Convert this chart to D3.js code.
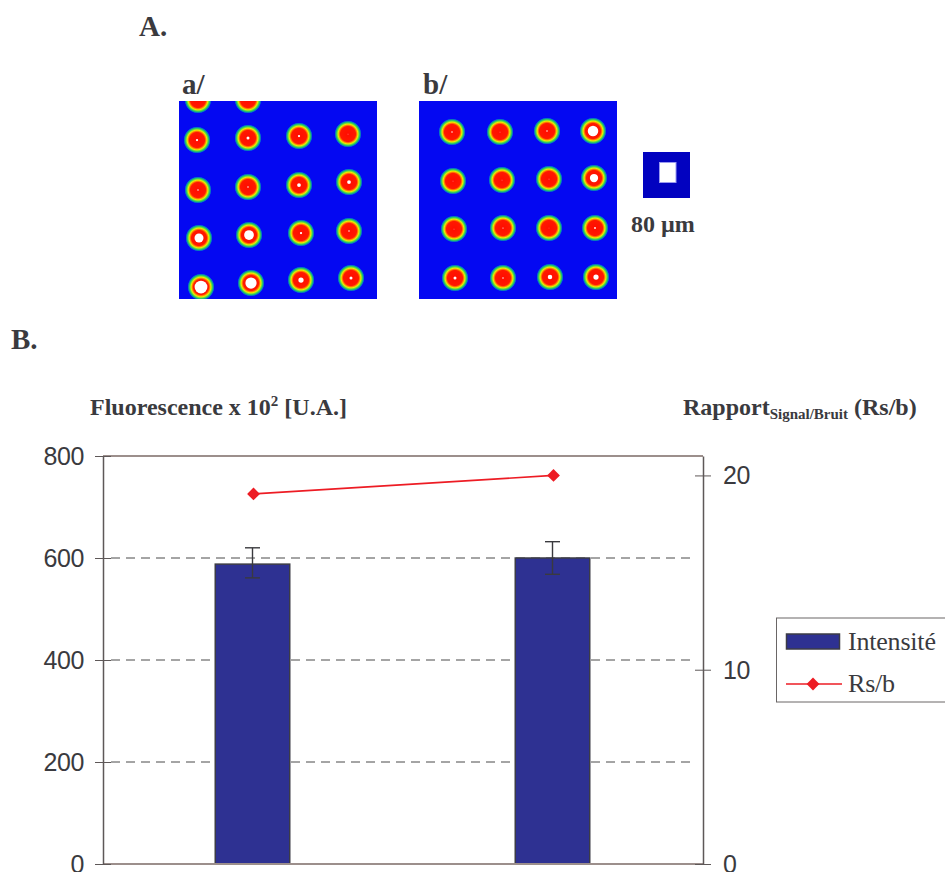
<!DOCTYPE html>
<html><head><meta charset="utf-8">
<style>html,body{margin:0;padding:0;background:#fff;overflow:hidden}svg{display:block}</style>
<script src="https://cdnjs.cloudflare.com/ajax/libs/d3/7.8.5/d3.min.js"></script>
</head><body>
<script>
const categories = ["a/", "b/"];
const intensite = [588, 600];
const errHigh = [620, 632];
const errLow = [561, 568];
const rsb = [19.05, 20];
const leftTicks = [0, 200, 400, 600, 800];
const rightTicks = [0, 10, 20];
const legendLabels = ["Intensité", "Rs/b"];

// Spot image centres, in pixels of the 198 x 198 scan: [column pos, row pos, saturated core]
const spotsA = [
 [19,-1,-1],[69,-1,-2],
 [18,72,.15],[69,70,.2],[120,68,.15],[169,66,.05],
 [19,122,.1],[69,119,.1],[120,117,.25],[170,114,.25],
 [20,170,.6],[70,167,.65],[122,165,.15],[170,163,.1],
 [22,219,.85],[72,215,.75],[122,212,.35],[172,210,.2]].map(d=>[d[0],d[1]>200?d[1]-33:(d[1]<0?d[1]:d[1]-33),d[2]]);
const spotsB = [
 [33,31,.1],[81,31,.05],[128,30,.1],[174,30,.7],
 [34,80,.05],[83,79,.05],[130,78,.05],[175,77,.55],
 [35,128,.05],[84,127,.08],[130,127,.03],[176,127,.12],
 [36,177,.2],[84,177,.1],[131,176,.3],[177,176,.35]];
const panelNames = ["A.", "B."];
const titleLeft = "Fluorescence x 10";
const titleRight = "Rapport";

const W = 945, H = 872, ink = "#3a3a3e";
const svg = d3.select("body").append("svg").attr("width", W).attr("height", H);
const defs = svg.append("defs");
const grad = defs.append("radialGradient").attr("id", "spot");
[[0,"#ff0c00"],[.56,"#ff1800"],[.66,"#ff9000"],[.73,"#e8f000"],[.81,"#60dc40"],[.89,"#10b080"],[.96,"#0450e0"],[1,"#0208f4"]]
 .forEach(s => grad.append("stop").attr("offset", s[0]).attr("stop-color", s[1]));
defs.append("filter").attr("id", "soft").append("feGaussianBlur").attr("stdDeviation", .7);

const serif = "'Liberation Serif','DejaVu Serif',serif", sans = "'Liberation Sans',Arial,sans-serif";
const bold = (x, y, s, size) => svg.append("text").attr("x", x).attr("y", y).attr("font-family", serif)
  .attr("font-weight", "bold").attr("font-size", size).attr("fill", ink).text(s);

bold(139, 36, panelNames[0], 29);
bold(11, 349, panelNames[1], 29);

function panel(x0, y0, spots, label, lx) {
  const size = 198;
  const sx = d3.scaleLinear().domain([0, size]).range([x0, x0 + size]);
  const sy = d3.scaleLinear().domain([0, size]).range([y0, y0 + size]);
  const id = "clip" + lx;
  defs.append("clipPath").attr("id", id).append("rect").attr("x", x0).attr("y", y0).attr("width", size).attr("height", size);
  const g = svg.append("g").attr("clip-path", `url(#${id})`);
  g.append("rect").attr("x", x0).attr("y", y0).attr("width", size).attr("height", size).attr("fill", "#0408f2");
  g.selectAll("circle.s").data(spots).join("circle").attr("class", "s")
    .attr("cx", d => sx(d[0])).attr("cy", d => sy(d[1])).attr("r", 13.5).attr("fill", "url(#spot)");
  g.selectAll("circle.w").data(spots.filter(d => d[2] > 0)).join("circle").attr("class", "w")
    .attr("cx", d => sx(d[0])).attr("cy", d => sy(d[1])).attr("r", d => 7.5 * d[2]).attr("fill", "#fff")
    .attr("filter", "url(#soft)");
  bold(lx, 94, label, 29);
}
panel(179, 101, spotsA, categories[0], 182);
panel(419, 101, spotsB, categories[1], 423);

// scale reference
svg.append("rect").attr("x", 643).attr("y", 152).attr("width", 47).attr("height", 46).attr("fill", "#0202c0");
svg.append("rect").attr("x", 659.5).attr("y", 162.5).attr("width", 16.5).attr("height", 20).attr("fill", "#fff").attr("stroke", "#9a9af0").attr("stroke-width", 1);
bold(631, 232, "80 µm", 24);

// axis titles
const t1 = bold(90, 415, titleLeft, 24);
t1.append("tspan").attr("font-size", 15).attr("dy", -9).text("2");
t1.append("tspan").attr("dy", 9).text(" [U.A.]");
const t2 = bold(683, 415, titleRight, 24);
t2.append("tspan").attr("font-size", 15).attr("dy", 4).text("Signal/Bruit");
t2.append("tspan").attr("dy", -4).text(" (Rs/b)");

// chart
const m = {l: 103, r: 703, t: 456, b: 864};
const x = d3.scaleBand().domain(categories).range([m.l - .5, m.r - .5]);
const y = d3.scaleLinear().domain([0, 800]).range([m.b, m.t]);
const y2 = d3.scaleLinear().domain([0, 21]).range([m.b, m.t]);
const barW = 74.5;

const grid = svg.append("g");
grid.selectAll("line").data(leftTicks.filter(d => d > 0 && d < 800)).join("line")
  .attr("x1", m.l + 8).attr("x2", m.r - 8).attr("y1", d => y(d)).attr("y2", d => y(d))
  .attr("stroke", "#4a4a4a").attr("stroke-width", 1).attr("stroke-dasharray", "9 6");

svg.append("line").attr("x1", m.l).attr("x2", m.r).attr("y1", m.t).attr("y2", m.t).attr("stroke", "#9c8f8c").attr("stroke-width", 2);

svg.selectAll("rect.bar").data(categories).join("rect").attr("class", "bar")
  .attr("x", d => x(d) + x.bandwidth() / 2 - barW / 2).attr("width", barW)
  .attr("y", (d, i) => y(intensite[i])).attr("height", (d, i) => m.b - y(intensite[i]))
  .attr("fill", "#2e3192").attr("stroke", "#3c3c46").attr("stroke-width", 1.5);

svg.append("line").attr("x1", m.l).attr("x2", m.r).attr("y1", m.b).attr("y2", m.b).attr("stroke", "#9c8f8c").attr("stroke-width", 2);

const styleAxis = (g, anchor, dx) => {
  g.select(".domain").attr("stroke", "#5e5858").attr("stroke-width", 1.5);
  g.selectAll(".tick line").attr("stroke", "#5e5858").attr("stroke-width", 1);
  g.selectAll(".tick text").attr("font-family", sans).attr("font-size", 25).attr("fill", ink)
    .attr("letter-spacing", -.4).attr("text-anchor", anchor).attr("x", dx).attr("dy", "0.34em");
};
const la = svg.append("g").attr("transform", `translate(${m.l},0)`)
  .call(d3.axisLeft(y).tickValues(leftTicks).tickSize(8).tickSizeOuter(0));
styleAxis(la, "end", -19);
la.selectAll(".tick").append("line").attr("x2", 8).attr("stroke", "#5e5858");
const ra = svg.append("g").attr("transform", `translate(${m.r},0)`)
  .call(d3.axisRight(y2).tickValues(rightTicks).tickSize(8).tickSizeOuter(0));
styleAxis(ra, "start", 20);
ra.selectAll(".tick").append("line").attr("x2", -8).attr("stroke", "#5e5858");

// error bars
const cx = d => x(d) + x.bandwidth() / 2;
const eb = svg.selectAll("g.err").data(categories).join("g").attr("class", "err")
  .attr("stroke", ink).attr("stroke-width", 1.4);
eb.append("line").attr("x1", cx).attr("x2", cx).attr("y1", (d, i) => y(errHigh[i])).attr("y2", (d, i) => y(errLow[i]));
eb.append("line").attr("x1", d => cx(d) - 7.5).attr("x2", d => cx(d) + 7.5).attr("y1", (d, i) => y(errHigh[i])).attr("y2", (d, i) => y(errHigh[i]));
eb.append("line").attr("x1", d => cx(d) - 7.5).attr("x2", d => cx(d) + 7.5).attr("y1", (d, i) => y(errLow[i])).attr("y2", (d, i) => y(errLow[i]));

// line
const line = d3.line().x((d, i) => cx(categories[i]) + 1).y(d => y2(d));
svg.append("path").datum(rsb).attr("d", line).attr("fill", "none").attr("stroke", "#ed1c24").attr("stroke-width", 1.7);
const diamond = d3.symbol().type(d3.symbolSquare).size(82);
svg.selectAll("path.pt").data(rsb).join("path").attr("class", "pt").attr("d", diamond)
  .attr("transform", (d, i) => `translate(${cx(categories[i]) + 1},${y2(d)}) rotate(45)`).attr("fill", "#ed1c24");

// legend
const leg = svg.append("g");
leg.append("rect").attr("x", 776.5).attr("y", 618).attr("width", 175).attr("height", 84).attr("fill", "#fff").attr("stroke", "#6a6666").attr("stroke-width", 1);
leg.append("rect").attr("x", 786.5).attr("y", 634).attr("width", 53).attr("height", 15).attr("fill", "#2e3192").attr("stroke", "#3c3c46").attr("stroke-width", 1.5);
leg.append("line").attr("x1", 786).attr("x2", 842).attr("y1", 684).attr("y2", 684).attr("stroke", "#ed1c24").attr("stroke-width", 1.5);
leg.append("path").attr("d", diamond).attr("transform", "translate(813,684) rotate(45)").attr("fill", "#ed1c24");
leg.selectAll("text").data(legendLabels).join("text").attr("x", 848).attr("y", (d, i) => 650 + i * 42)
  .attr("font-family", serif).attr("font-size", 26).attr("letter-spacing", -.2).attr("fill", ink).text(d => d);
</script>
</body></html>
